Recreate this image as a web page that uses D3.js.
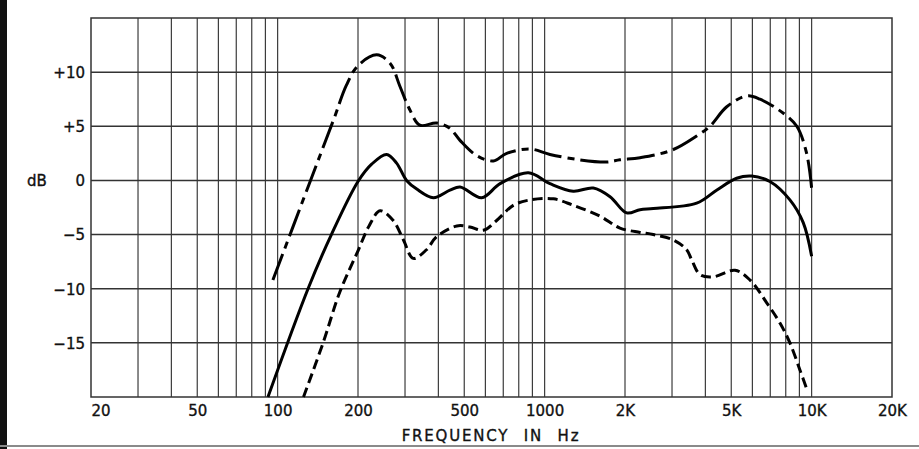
<!DOCTYPE html>
<html>
<head>
<meta charset="utf-8">
<script src="https://cdn.jsdelivr.net/npm/d3@7"></script>
<style>
  html, body { margin: 0; padding: 0; background: #fff; }
  svg { display: block; }
  text { font-family: "DejaVu Sans", sans-serif; fill: #111; stroke: #111; stroke-width: 0.35px; }
</style>
</head>
<body>
<svg id="chart" width="919" height="449"></svg>
<script>
// ---- data ----
const xTickValues = [20, 50, 100, 200, 500, 1000, 2000, 5000, 10000, 20000];
const xTickLabels = ["20", "50", "100", "200", "500", "1000", "2K", "5K", "10K", "20K"];
const gridFreqs = [30, 40, 50, 60, 70, 80, 90, 100, 200, 300, 400, 500, 600, 700, 800, 900,
                   1000, 2000, 3000, 4000, 5000, 6000, 7000, 8000, 9000, 10000];
const yTickValues = [10, 5, 0, -5, -10, -15];
const yTickLabels = ["+10", "+5", "0", "\u22125", "\u221210", "\u221215"];
const yGridValues = [10, 5, 0, -5, -10, -15];
const xTitle = "FREQUENCY IN Hz";
const yTitle = "dB";

// frequency (Hz), response (dB)
const upperFreq = [96, 130, 162, 181, 200, 235, 264, 287, 313, 341, 394, 442, 482, 556, 643, 721, 881, 1047, 1357, 1707, 1915, 2277, 3000, 3709, 4160, 4810, 5720, 6410, 7840, 8800, 9580, 10000];
const upperDb   = [-9.2, -0.6, 5.6, 8.8, 10.6, 11.6, 10.8, 8.7, 6.5, 5.1, 5.3, 4.8, 3.7, 2.3, 1.8, 2.5, 2.9, 2.4, 1.9, 1.7, 1.9, 2.1, 2.8, 4.1, 5.0, 6.8, 7.8, 7.5, 6.2, 5.0, 2.5, -0.7];

const midFreq = [92, 130, 159, 200, 225, 256, 279, 304, 332, 383, 442, 482, 581, 681, 869, 1047, 1280, 1521, 1758, 2030, 2277, 2553, 3709, 4405, 5237, 5960, 6977, 8292, 9302, 10000];
const midDb   = [-20, -10, -5, -0.1, 1.5, 2.4, 1.6, 0, -0.8, -1.6, -0.9, -0.6, -1.6, -0.3, 0.7, -0.3, -1.0, -0.7, -1.5, -3.0, -2.7, -2.6, -2.1, -0.9, 0.2, 0.4, -0.1, -1.8, -3.9, -7.0];

const lowerFreq = [125, 148, 171, 200, 220, 242, 271, 296, 322, 361, 394, 469, 525, 589, 661, 763, 881, 1079, 1280, 1611, 1915, 2277, 2553, 3034, 3404, 3550, 3820, 4285, 5165, 5880, 6790, 7620, 8292, 9040, 9630];
const lowerDb   = [-20, -15, -10.3, -6.5, -4.2, -2.8, -3.7, -5.5, -7.2, -6.4, -5.2, -4.2, -4.3, -4.6, -3.7, -2.3, -1.8, -1.7, -2.3, -3.3, -4.4, -4.8, -5.0, -5.5, -6.4, -7.3, -8.7, -8.9, -8.3, -9.2, -11.3, -13.2, -15.0, -17.5, -19.4];

// ---- drawing ----
(function () {
const svg = d3.select("#chart");
const W = 919, H = 449;
const pLeft = 91, pRight = 892, pTop = 18, pBottom = 397;

svg.append("rect").attr("x", 0).attr("y", 0).attr("width", W).attr("height", H).attr("fill", "#fff");

const x = d3.scaleLog().domain([20, 20000]).range([pLeft, pRight]);
const y = d3.scaleLinear().domain([-20, 15]).range([pBottom, pTop]);

// page frame
svg.append("rect").attr("x", 0).attr("y", 0).attr("width", 7).attr("height", H).attr("fill", "#111");
svg.append("line").attr("x1", 0).attr("x2", W).attr("y1", 446).attr("y2", 446)
  .attr("stroke", "#8a8a8a").attr("stroke-width", 2);

// grid
const grid = svg.append("g");
grid.selectAll("line.v").data(gridFreqs).join("line")
  .attr("class", "v")
  .attr("x1", d => x(d)).attr("x2", d => x(d))
  .attr("y1", pTop).attr("y2", pBottom)
  .attr("stroke", "#3c3c3c").attr("stroke-width", 1.2);
grid.selectAll("line.h").data(yGridValues).join("line")
  .attr("class", "h")
  .attr("x1", pLeft).attr("x2", pRight)
  .attr("y1", d => y(d)).attr("y2", d => y(d))
  .attr("stroke", "#333").attr("stroke-width", 1.5);
grid.append("rect")
  .attr("x", pLeft).attr("y", pTop).attr("width", pRight - pLeft).attr("height", pBottom - pTop)
  .attr("fill", "none").attr("stroke", "#333").attr("stroke-width", 1.5);

// axes (labels only)
const xAxis = d3.axisBottom(x).tickValues(xTickValues)
  .tickFormat((d, i) => xTickLabels[i]).tickSize(0).tickPadding(0);
const gx = svg.append("g").attr("transform", `translate(0,${pBottom})`).call(xAxis);
gx.select(".domain").remove();
gx.selectAll("text")
  .attr("y", 19).attr("dy", 0)
  .style("font-family", '"DejaVu Sans", sans-serif')
  .style("font-size", "15px").style("fill", "#111")
  .attr("text-anchor", (d, i) => i === 0 ? "start" : "middle");

const yAxis = d3.axisLeft(y).tickValues(yTickValues)
  .tickFormat((d, i) => yTickLabels[i]).tickSize(0).tickPadding(6);
const gy = svg.append("g").attr("transform", `translate(${pLeft},0)`).call(yAxis);
gy.select(".domain").remove();
gy.selectAll("text")
  .attr("dy", "0.36em")
  .style("font-family", '"DejaVu Sans", sans-serif')
  .style("font-size", "15px").style("fill", "#111");

svg.append("text").attr("x", 27).attr("y", y(0)).attr("dy", "0.36em")
  .style("font-size", "15px").text(yTitle);

svg.append("text").attr("x", (400 + 582) / 2).attr("y", 441)
  .attr("text-anchor", "middle")
  .style("font-size", "15px").style("letter-spacing", "1.8px").style("word-spacing", "8px")
  .text(xTitle);

// curves
const line = d3.line()
  .x(d => x(d[0])).y(d => y(d[1]))
  .curve(d3.curveCatmullRom.alpha(0.5));

function draw(freqs, dbs, dash) {
  const pts = freqs.map((f, i) => [f, dbs[i]]);
  svg.append("path").datum(pts)
    .attr("d", line)
    .attr("fill", "none")
    .attr("stroke", "#000")
    .attr("stroke-width", 3)
    .attr("stroke-linejoin", "round")
    .attr("stroke-dasharray", dash);
}
draw(upperFreq, upperDb, "28,6,7,6");
draw(midFreq, midDb, null);
draw(lowerFreq, lowerDb, "10,5");
})();
</script>
</body>
</html>
